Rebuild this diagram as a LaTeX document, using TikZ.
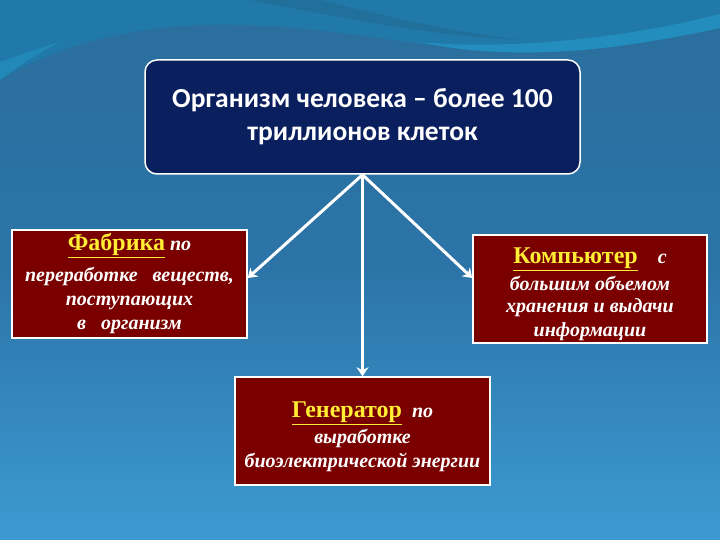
\documentclass[tikz,border=0pt]{standalone}
\usepackage{fontspec}
\setmainfont{Liberation Serif}
\newfontfamily\titlefont{Carlito}
\usetikzlibrary{arrows.meta,calc}
\definecolor{navy}{HTML}{0A1F5E}
\definecolor{boxred}{HTML}{7A0000}
\definecolor{ylw}{HTML}{FFEE33}
\definecolor{bgtop}{HTML}{2A6E9C}
\definecolor{bgmid}{HTML}{2C74A8}
\definecolor{bgbot}{HTML}{3C9AD2}
\definecolor{teal}{HTML}{2079A8}
\definecolor{cyanband}{HTML}{2598C8}
\tikzset{
  redbox/.style={draw=white, line width=1.5pt, fill=boxred, inner sep=0pt},
  redtext/.style={text=white, align=center, inner sep=0pt, font=\bfseries\itshape\fontsize{20}{24}\selectfont},
  conn/.style={draw=white, line width=3pt, -{Stealth[length=9pt,width=12pt]}},
}
\newcommand{\hl}[1]{{\upshape\fontsize{24}{24}\selectfont\textcolor{ylw}{\underline{#1}}}}
\begin{document}
\begin{tikzpicture}[x=1pt,y=-1pt]
\useasboundingbox (0,0) rectangle (720,540);
\shade[top color=bgtop, bottom color=bgmid] (0,0) rectangle (720,270);
\shade[top color=bgmid, bottom color=bgbot] (0,270) rectangle (720,540);
% top waves
\fill[teal] (0,0) -- (720,0) -- (720,28) .. controls (640,45) and (560,58) .. (470,50) .. controls (380,40) and (300,22) .. (200,25) .. controls (110,28) and (40,55) .. (0,80) -- cycle;
\fill[cyanband, opacity=0.7] (420,42) .. controls (500,50) and (620,40) .. (720,14) -- (720,28) .. controls (640,45) and (560,58) .. (470,50) .. controls (450,48) and (435,45) .. (420,42) -- cycle;
\fill[bgtop!85!black, opacity=0.35] (250,0) .. controls (330,15) and (420,35) .. (520,40) .. controls (440,30) and (360,10) .. (320,0) -- cycle;
\fill[cyanband, opacity=0.5] (0,62) .. controls (20,55) and (40,48) .. (60,42) .. controls (40,52) and (20,65) .. (0,80) -- cycle;

\node[draw=white, line width=1.5pt, fill=navy, rounded corners=12pt, minimum width=435pt, minimum height=114pt, text=white, align=center, font=\titlefont\bfseries\fontsize{27.5}{33}\selectfont] (main) at (362.5,117) {Организм человека – более 100\\триллионов клеток};

\node[redbox, minimum width=235pt, minimum height=108pt] (fab) at (129.5,284) {};
\node[redtext] (fabtext) at (fab.center) {\hl{Фабрика} по\\[7pt]переработке\ \ \ веществ,\\поступающих\\в\ \ \ организм};

\node[redbox, minimum width=234pt, minimum height=108pt] (comp) at (590,289) {};
\node[redtext] (comptext) at ([yshift=-5pt]comp.center) {\hl{Компьютер}\ \ \ \ с\\[3pt]большим объемом\\[-2pt]хранения и выдачи\\информации};

\node[redbox, minimum width=255pt, minimum height=108pt] (gen) at (362.5,431) {};
\node[redtext] (gentext) at ([yshift=-6pt]gen.center) {\hl{Генератор}\ \ по\\[2pt]выработке\\биоэлектрической энергии};

\coordinate (src) at (main.south);
\draw[conn] (src) -- ([yshift=6pt]fab.east);
\draw[conn] (src) -- ([yshift=11pt]comp.west);
\draw[conn] (src) -- (gen.north);
\end{tikzpicture}
\end{document}
